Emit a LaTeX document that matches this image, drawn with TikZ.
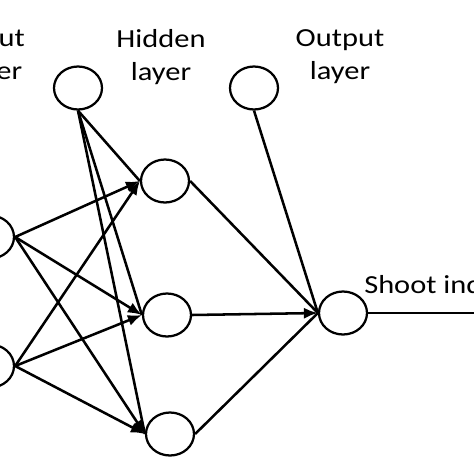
\documentclass[tikz,border=0pt]{standalone}
\usepackage{fontspec}
\setmainfont{Carlito}[FakeStretch=1.17]
\usepackage{tikz}
\usetikzlibrary{shapes.geometric, arrows.meta, positioning, calc}

\begin{document}
\begin{tikzpicture}[x=0.025cm, y=-0.025cm,
		neuron/.style={ellipse, draw, line width=1.6pt, inner sep=0pt, minimum width=1.2cm, minimum height=1.075cm},
		link/.style={line width=1.8pt},
		arr/.style={line width=1.8pt, -{Latex[length=3.5mm, width=2.8mm]}},
		lbl/.style={align=center, font=\fontsize{18.5}{23.5}\selectfont, inner sep=0pt}]
	\useasboundingbox (0, 0) rectangle (474, 474);
	\clip (0, 0) rectangle (474, 474);

	% Layer titles
	\node[lbl] (tin) at (-8, 57) {Input\\layer};
	\node[lbl] (thid) at (161, 57) {Hidden\\layer};
	\node[lbl] (tout) at (340, 57) {Output\\layer};

	% Input nodes
	\node[neuron] (in1) at (-10, 237) {};
	\node[neuron] (in2) at (-10, 366) {};
	\node[neuron] (b1) at (78, 88) {}; % Bias of hidden layer

	% Hidden nodes
	\node[neuron] (h1) at (165, 181) {};
	\node[neuron] (h2) at (167, 315) {};
	\node[neuron] (h3) at (170, 434) {};
	\node[neuron] (b2) at (254, 88) {}; % Bias of output layer

	% Output
	\node[neuron] (out) at (343, 313) {};
	\node[lbl, anchor=base west] (res) at (364, 293) {Shoot ind};
	\coordinate (end) at (480, 313);

	% Connections
	\foreach \i in {in1, in2} {
		\foreach \h in {h1, h2, h3} {
			\draw[arr] (\i.east) -- (\h.west);
		}
	}
	\foreach \h in {h1, h2, h3} {
		\draw[link] (b1.south) -- (\h.west);
	}
	\draw[link] (h1.east) -- (out.west);
	\draw[arr] (h2.east) -- (out.west);
	\draw[link] (h3.east) -- (out.west);
	\draw[link] (b2.south) -- (out.west);
	\draw[link] (out.east) -- (end);
\end{tikzpicture}
\end{document}
